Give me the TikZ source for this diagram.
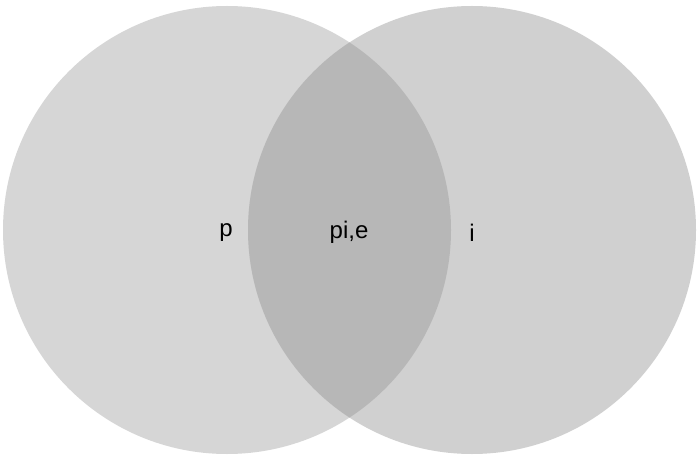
\documentclass[tikz,border=0pt]{standalone}
\usepackage{fontspec}
\setmainfont{Liberation Sans}
\definecolor{leftc}{HTML}{D6D6D6}
\definecolor{rightc}{HTML}{D0D0D0}
\definecolor{midc}{HTML}{B7B7B7}
\begin{document}
\begin{tikzpicture}[x=1pt,y=-1pt,
  lbl/.style={inner sep=0pt,anchor=base,font=\fontsize{24}{24}\selectfont}]
\useasboundingbox (0,0) rectangle (700,462);
\fill[white] (0,0) rectangle (700,462);
\coordinate (cl) at (227,230);
\coordinate (cr) at (472,230);
\fill[leftc] (cl) circle[radius=224];
\fill[rightc] (cr) circle[radius=224];
\begin{scope}
  \clip (cl) circle[radius=224];
  \fill[midc] (cr) circle[radius=224];
\end{scope}
\node[lbl] (p) at (226,236) {p};
\node[lbl] (pie) at (349,238) {pi,e};
\node[lbl] (i) at (472,241) {i};
\end{tikzpicture}
\end{document}
